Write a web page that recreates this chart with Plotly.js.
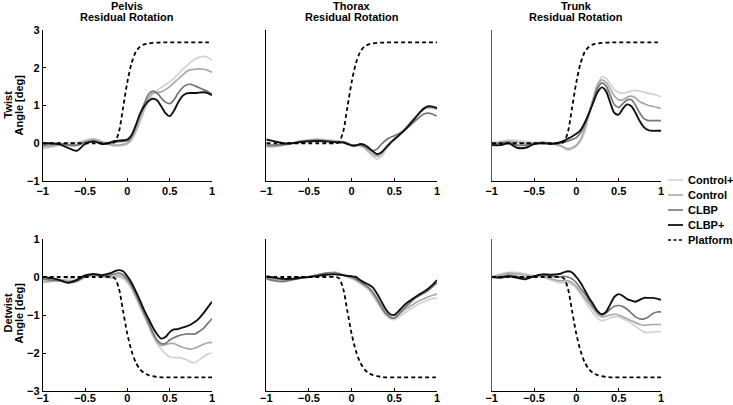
<!DOCTYPE html>
<html>
<head>
<meta charset="utf-8">
<script src="https://cdn.plot.ly/plotly-3.0.1.min.js"></script>
<style>html,body{margin:0;padding:0;background:#fff;}#chart{width:733px;height:405px;}</style>
</head>
<body>
<div id="chart"></div>
<script>
// ---- data ----
var time = [-1,-0.9,-0.8,-0.7,-0.6,-0.5,-0.4,-0.3,-0.2,-0.15,-0.1,-0.05,0,0.05,0.1,0.15,0.2,0.25,0.3,0.35,0.4,0.45,0.5,0.55,0.6,0.65,0.7,0.75,0.8,0.85,0.9,0.95,1];
var groups = ["Control+","Control","CLBP","CLBP+"];
var segments = ["Pelvis","Thorax","Trunk"];
var xTicks = [-1,-0.5,0,0.5,1];
var twistTicks = [-1,0,1,2,3];
var detwistTicks = [-3,-2,-1,0,1];

var platformTwist = [0,0,0,0,0,0,0,0,0,0.03,0.3,0.95,1.62,2.12,2.42,2.56,2.62,2.645,2.66,2.665,2.67,2.67,2.67,2.67,2.67,2.67,2.67,2.67,2.67,2.67,2.67,2.67,2.67];
var platformDetwist = [0,0,0,0,0,0,0,0,0,-0.03,-0.3,-0.9,-1.5,-1.95,-2.25,-2.43,-2.53,-2.58,-2.61,-2.63,-2.64,-2.64,-2.64,-2.64,-2.64,-2.64,-2.64,-2.64,-2.64,-2.64,-2.64,-2.64,-2.64];

// Pelvis twist
var pelvisTwistControlPlus = [-0.15,-0.1,-0.05,0,0.02,0.08,0.12,0.05,-0.05,-0.08,-0.08,-0.06,-0.02,0.08,0.28,0.55,0.85,1.1,1.3,1.4,1.48,1.55,1.63,1.72,1.83,1.95,2.05,2.15,2.23,2.28,2.3,2.27,2.2];
var pelvisTwistControl = [-0.1,-0.08,-0.04,-0.04,-0.04,0.05,0.1,0.04,-0.04,-0.05,-0.05,-0.03,0,0.12,0.35,0.65,0.95,1.2,1.33,1.34,1.36,1.42,1.5,1.6,1.7,1.8,1.9,1.95,1.96,1.97,1.96,1.93,1.88];
var pelvisTwistCLBP = [-0.05,-0.03,0,-0.05,-0.06,0.02,0.06,0,0,0.02,0.04,0.05,0.06,0.18,0.45,0.78,1.05,1.3,1.38,1.33,1.2,1.09,1.05,1.15,1.33,1.47,1.55,1.56,1.52,1.47,1.42,1.37,1.3];
var pelvisTwistCLBPPlus = [0,0,-0.03,-0.12,-0.2,-0.02,0.05,-0.02,0.02,0.06,0.07,0.08,0.1,0.22,0.48,0.78,0.98,1.12,1.18,1.14,0.98,0.8,0.72,0.86,1.08,1.25,1.32,1.33,1.33,1.34,1.35,1.33,1.27];

// Thorax twist
var thoraxTwistControlPlus = [-0.1,-0.1,-0.06,0,0.06,0.09,0.11,0.09,0.07,0.06,0.04,0,-0.05,-0.06,-0.08,-0.14,-0.25,-0.35,-0.42,-0.35,-0.18,-0.02,0.12,0.22,0.33,0.46,0.6,0.72,0.83,0.91,0.95,0.96,0.95];
var thoraxTwistControl = [-0.08,-0.08,-0.05,0,0.05,0.08,0.1,0.08,0.06,0.05,0.04,0,-0.04,-0.04,-0.05,-0.1,-0.2,-0.3,-0.35,-0.28,-0.12,0,0.12,0.22,0.32,0.45,0.57,0.7,0.82,0.9,0.94,0.93,0.9];
var thoraxTwistCLBP = [-0.05,-0.05,-0.03,0,0.05,0.07,0.08,0.06,0.03,0.02,0.03,0,-0.05,-0.05,-0.05,-0.08,-0.15,-0.2,-0.15,-0.02,0.08,0.15,0.2,0.25,0.32,0.4,0.5,0.6,0.7,0.78,0.8,0.77,0.72];
var thoraxTwistCLBPPlus = [0.1,0.05,0,0,0.03,0.05,0.06,0.05,0.03,0.02,0.02,-0.02,-0.06,-0.06,-0.02,-0.04,-0.12,-0.22,-0.29,-0.24,-0.12,0,0.1,0.2,0.3,0.42,0.55,0.68,0.82,0.93,0.98,0.97,0.93];

// Trunk twist
var trunkTwistControlPlus = [0.02,0.05,0.08,0.08,0.05,0.02,0.02,-0.02,-0.08,-0.12,-0.18,-0.15,-0.08,0.05,0.3,0.7,1.15,1.55,1.75,1.72,1.58,1.42,1.35,1.32,1.35,1.38,1.4,1.38,1.35,1.32,1.3,1.27,1.23];
var trunkTwistControl = [0,0.02,0.05,0.03,0,0,0.03,0,-0.05,-0.1,-0.15,-0.12,-0.05,0.1,0.4,0.8,1.2,1.55,1.68,1.62,1.45,1.25,1.15,1.15,1.22,1.25,1.2,1.1,1.05,1,0.98,0.95,0.92];
var trunkTwistCLBP = [-0.02,0,0.02,-0.05,-0.05,0,0.02,0,0,0.02,0.06,0.1,0.15,0.28,0.5,0.8,1.12,1.45,1.6,1.52,1.28,1.02,0.95,1.05,1.15,1.15,1,0.8,0.65,0.6,0.6,0.6,0.6];
var trunkTwistCLBPPlus = [-0.05,-0.05,0,-0.12,-0.12,-0.02,0,-0.02,0.02,0.06,0.12,0.18,0.25,0.35,0.55,0.8,1.08,1.35,1.48,1.38,1.08,0.8,0.76,0.92,1.03,0.98,0.8,0.58,0.42,0.35,0.33,0.33,0.33];

// Pelvis detwist
var pelvisDetwistControlPlus = [-0.15,-0.12,-0.08,-0.05,-0.05,0.02,0.05,0,-0.03,-0.02,0,-0.05,-0.15,-0.32,-0.55,-0.8,-1.05,-1.3,-1.55,-1.75,-1.9,-2.02,-2.1,-2.12,-2.12,-2.14,-2.18,-2.24,-2.25,-2.18,-2.1,-2.03,-2];
var pelvisDetwistControl = [-0.12,-0.1,-0.08,-0.1,-0.1,0,0.05,0.03,0,0.02,0.04,0,-0.1,-0.28,-0.5,-0.75,-1,-1.25,-1.5,-1.7,-1.8,-1.78,-1.75,-1.75,-1.8,-1.85,-1.88,-1.9,-1.87,-1.82,-1.77,-1.73,-1.72];
var pelvisDetwistCLBP = [-0.05,-0.08,-0.1,-0.15,-0.12,0,0.06,0.03,0.05,0.08,0.1,0.06,-0.05,-0.22,-0.45,-0.7,-0.95,-1.2,-1.45,-1.65,-1.75,-1.75,-1.66,-1.6,-1.55,-1.52,-1.5,-1.5,-1.5,-1.43,-1.35,-1.22,-1.1];
var pelvisDetwistCLBPPlus = [0,-0.03,-0.08,-0.15,-0.08,0.04,0.08,0.05,0.1,0.15,0.18,0.15,0.02,-0.15,-0.38,-0.62,-0.88,-1.1,-1.32,-1.5,-1.62,-1.58,-1.45,-1.38,-1.37,-1.33,-1.3,-1.25,-1.18,-1.08,-0.95,-0.8,-0.65];

// Thorax detwist
var thoraxDetwistControlPlus = [0,-0.05,-0.06,-0.04,0,0.02,0.06,0.1,0.12,0.1,0.06,0,-0.05,-0.1,-0.18,-0.25,-0.35,-0.5,-0.68,-0.85,-1,-1.1,-1.12,-1.06,-0.98,-0.9,-0.83,-0.76,-0.7,-0.65,-0.6,-0.57,-0.55];
var thoraxDetwistControl = [-0.02,-0.06,-0.08,-0.05,-0.02,0,0.06,0.1,0.12,0.1,0.05,0.02,-0.02,-0.08,-0.15,-0.22,-0.3,-0.45,-0.62,-0.82,-0.98,-1.06,-1.08,-1,-0.9,-0.82,-0.75,-0.68,-0.62,-0.57,-0.52,-0.48,-0.45];
var thoraxDetwistCLBP = [-0.05,-0.1,-0.12,-0.08,-0.03,0,0.05,0.1,0.1,0.08,0.05,0.02,0,-0.05,-0.12,-0.2,-0.28,-0.4,-0.58,-0.78,-0.95,-1.05,-1.08,-0.98,-0.85,-0.75,-0.65,-0.55,-0.48,-0.42,-0.35,-0.25,-0.15];
var thoraxDetwistCLBPPlus = [0.02,-0.02,-0.05,-0.05,-0.02,0,0.03,0.06,0.07,0.06,0.05,0.03,0.02,0,-0.08,-0.15,-0.2,-0.28,-0.45,-0.65,-0.85,-0.98,-1,-0.9,-0.78,-0.68,-0.6,-0.52,-0.45,-0.38,-0.3,-0.2,-0.08];

// Trunk detwist
var trunkDetwistControlPlus = [0.02,0.08,0.12,0.12,0.08,0.03,0,-0.08,-0.15,-0.15,-0.15,-0.2,-0.3,-0.45,-0.62,-0.8,-0.95,-1.08,-1.15,-1.12,-1.08,-1.05,-1.05,-1.1,-1.15,-1.22,-1.3,-1.38,-1.45,-1.46,-1.45,-1.44,-1.44];
var trunkDetwistControl = [0,0.05,0.1,0.08,0.05,0.02,0.02,-0.05,-0.1,-0.1,-0.1,-0.15,-0.25,-0.4,-0.55,-0.7,-0.85,-0.98,-1.05,-1.03,-1,-0.98,-1,-1.05,-1.1,-1.15,-1.2,-1.25,-1.27,-1.26,-1.25,-1.25,-1.25];
var trunkDetwistCLBP = [0,0,0.05,0.02,-0.02,0.02,0.05,0.02,0,0.02,0,-0.05,-0.15,-0.3,-0.45,-0.62,-0.78,-0.92,-1,-0.95,-0.85,-0.77,-0.75,-0.78,-0.85,-0.95,-1.05,-1.1,-1.1,-1.05,-0.97,-0.92,-0.92];
var trunkDetwistCLBPPlus = [0,-0.02,0.02,-0.02,-0.06,0.02,0.07,0.06,0.08,0.12,0.15,0.12,0,-0.15,-0.35,-0.55,-0.72,-0.9,-0.98,-0.92,-0.72,-0.52,-0.45,-0.5,-0.58,-0.62,-0.65,-0.6,-0.55,-0.55,-0.55,-0.57,-0.6];

// ---- styling ----
var groupColors = ["#d2d2d2","#a9a9a9","#767676","#111111"];
var groupWidths = [1.7,1.7,1.7,1.9];
var FONT = "Liberation Sans, Arial, Helvetica, sans-serif";

var panels = [
  {series:[pelvisTwistControlPlus,pelvisTwistControl,pelvisTwistCLBP,pelvisTwistCLBPPlus], platform:platformTwist},
  {series:[thoraxTwistControlPlus,thoraxTwistControl,thoraxTwistCLBP,thoraxTwistCLBPPlus], platform:platformTwist},
  {series:[trunkTwistControlPlus,trunkTwistControl,trunkTwistCLBP,trunkTwistCLBPPlus], platform:platformTwist},
  {series:[pelvisDetwistControlPlus,pelvisDetwistControl,pelvisDetwistCLBP,pelvisDetwistCLBPPlus], platform:platformDetwist},
  {series:[thoraxDetwistControlPlus,thoraxDetwistControl,thoraxDetwistCLBP,thoraxDetwistCLBPPlus], platform:platformDetwist},
  {series:[trunkDetwistControlPlus,trunkDetwistControl,trunkDetwistCLBP,trunkDetwistCLBPPlus], platform:platformDetwist}
];

var W = 733, H = 405;
var colPx = [[42.7,212],[266.3,437],[491.7,661]];
var rowPx = [[30,181],[239,391]];

var traces = [];
var layout = {
  width: W, height: H,
  margin: {l:0,r:0,t:0,b:0},
  paper_bgcolor: "#fff", plot_bgcolor: "#fff",
  showlegend: false,
  font: {family: FONT, size: 11, color: "#000", weight: "bold"},
  annotations: [], shapes: []
};

panels.forEach(function(p, i){
  var row = Math.floor(i/3), col = i%3;
  var n = i+1;
  var xa = "x" + (n===1?"":n), ya = "y" + (n===1?"":n);
  p.series.forEach(function(s, g){
    traces.push({x: time, y: s, xaxis: xa, yaxis: ya, mode: "lines", name: groups[g],
      line: {color: groupColors[g], width: groupWidths[g], shape: "spline", smoothing: 0.8},
      hoverinfo: "skip"});
  });
  traces.push({x: time, y: p.platform, xaxis: xa, yaxis: ya, mode: "lines", name: "Platform",
    line: {color: "#000", width: 1.8, dash: "4px,3px", shape: "spline", smoothing: 0.8}, hoverinfo: "skip"});

  var xd = [colPx[col][0]/W, colPx[col][1]/W];
  var yd = [1 - rowPx[row][1]/H, 1 - rowPx[row][0]/H];
  layout["xaxis" + (n===1?"":n)] = {
    domain: xd, anchor: ya, range: [-1,1], tickvals: xTicks,
    ticktext: xTicks.map(function(v){return v<0 ? "\u2212"+Math.abs(v) : String(v);}),
    ticks: "inside", ticklen: 3, tickwidth: 1, tickcolor: "#000",
    ticklabelstandoff: row===1 ? -3 : 0,
    showline: true, linecolor: "#000", linewidth: 1, showgrid: false, zeroline: false,
    tickfont: {family: FONT, size: 11, color: "#000", weight: "bold"}, fixedrange: true
  };
  var yt = row===0 ? twistTicks : detwistTicks;
  layout["yaxis" + (n===1?"":n)] = {
    domain: yd, anchor: xa, range: row===0 ? [-1,3] : [-3,1], tickvals: yt,
    ticktext: yt.map(function(v){return v<0 ? "\u2212"+Math.abs(v) : String(v);}),
    ticks: col===0 ? "inside" : "", ticklen: 3, tickwidth: 1, tickcolor: "#000",
    showticklabels: col===0,
    showline: true, linecolor: col===2 ? "#555" : "#000", linewidth: 1, showgrid: false, zeroline: false,
    tickfont: {family: FONT, size: 11, color: "#000", weight: "bold"}, fixedrange: true
  };
});

// column titles
var titleFont = {family: FONT, size: 11, color: "#000", weight: "bold"};
segments.forEach(function(name, c){
  var cx = (colPx[c][0]+colPx[c][1])/2/W;
  layout.annotations.push({text: name, xref:"paper", yref:"paper", x: cx, y: 1-6/H, xanchor:"center", yanchor:"middle", showarrow:false, font: titleFont});
  layout.annotations.push({text: "Residual Rotation", xref:"paper", yref:"paper", x: cx, y: 1-17.5/H, xanchor:"center", yanchor:"middle", showarrow:false, font: titleFont});
});
// y labels
[["Twist",105],["Detwist",313]].forEach(function(lbl){
  layout.annotations.push({text: lbl[0], xref:"paper", yref:"paper", x: 7.5/W, y: 1-lbl[1]/H, xanchor:"center", yanchor:"middle", textangle:-90, showarrow:false, font: titleFont});
  layout.annotations.push({text: "Angle [deg]", xref:"paper", yref:"paper", x: 18.5/W, y: 1-lbl[1]/H, xanchor:"center", yanchor:"middle", textangle:-90, showarrow:false, font: titleFont});
});

// legend (drawn manually to match short sample lines)
var legNames = groups.concat(["Platform"]);
var legColors = groupColors.concat(["#000"]);
var legY = [180,195,210,225,240];
legNames.forEach(function(nm, k){
  layout.shapes.push({type:"line", xref:"paper", yref:"paper", x0: 668/W, x1: 683/W, y0: 1-legY[k]/H, y1: 1-legY[k]/H,
    line: {color: legColors[k], width: k===4 ? 1.5 : (k===3 ? 1.8 : 1.6), dash: k===4 ? "3px,2.5px" : "solid"}});
  layout.annotations.push({text: nm, xref:"paper", yref:"paper", x: 686/W, y: 1-legY[k]/H, xanchor:"left", yanchor:"middle", showarrow:false, font: titleFont});
});

Plotly.newPlot("chart", traces, layout, {displayModeBar: false, staticPlot: true});
</script>
</body>
</html>
